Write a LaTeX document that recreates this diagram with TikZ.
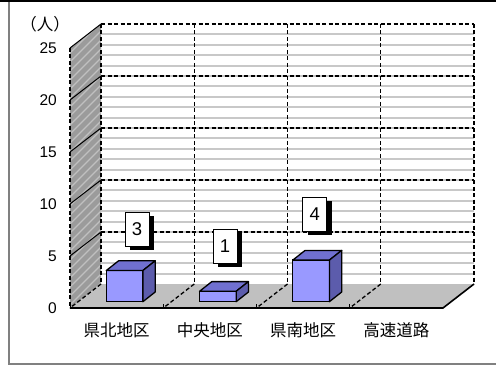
\documentclass[tikz,border=0pt]{standalone}
\usepackage{fontspec}
\setmainfont{Liberation Sans}
\newfontfamily\jpfont{Noto Sans CJK JP}
\usetikzlibrary{positioning,shadows}
\definecolor{barfront}{RGB}{153,153,255}
\definecolor{bartop}{RGB}{112,112,208}
\definecolor{barside}{RGB}{92,92,172}
\definecolor{floorgray}{RGB}{192,192,192}
\definecolor{wallgray}{RGB}{155,155,155}
\definecolor{hatchgray}{RGB}{192,192,192}
\definecolor{minorgray}{RGB}{200,200,200}
\definecolor{framegray}{RGB}{128,128,128}

\begin{document}
\begin{tikzpicture}[x=1pt,y=-1pt,
  major/.style={black,dash pattern=on 4pt off 2.5pt,line width=1.3pt},
  minor/.style={minorgray,line width=2pt},
  ticklabel/.style={anchor=east,inner sep=0pt,font=\fontsize{15.5}{16}\selectfont},
  catlabel/.style={inner sep=0pt,font=\jpfont\fontsize{16.5}{17}\selectfont},
  datalabel/.style={draw=black,fill=white,line width=0.8pt,minimum width=24pt,minimum height=34pt,
    inner sep=0pt,font=\fontsize{18.5}{19}\selectfont,
    drop shadow={shadow xshift=5pt,shadow yshift=-4pt,fill=black,opacity=1}},
  ]
\useasboundingbox (0,0) rectangle (496,369);
\draw[framegray,line width=1.3pt] (9,2) -- (9,364) -- (497,364);
\draw[black,line width=1.8pt] (0,0.9) -- (496,0.9);

% side wall
\begin{scope}
  \clip (70,308) -- (70,48) -- (101,24) -- (101,284) -- cycle;
  \fill[wallgray] (60,0) rectangle (110,320);
  \foreach \s in {0,9,...,360}
    \draw[hatchgray,line width=1.2pt] (60,\s) -- ++(50,-50);
\end{scope}
% floor
\fill[floorgray] (70,308) -- (443,308) -- (474,284) -- (101,284) -- cycle;

% back wall grid
\foreach \v in {1,...,24}
  \draw[minor] (101,284-10.4*\v) -- (474,284-10.4*\v);
\foreach \v in {5,10,...,25}{
  \draw[major] (101,284-10.4*\v) -- (474,284-10.4*\v);
  \draw[black,line width=1pt] (70,308-10.4*\v) -- ++(31,-24);
}
\foreach \i in {0,...,4}
  \draw[major] (101+93.25*\i,24) -- (101+93.25*\i,284);
\foreach \i in {0,...,3}{
  \draw[major] (101+93.25*\i,284) -- (70+93.25*\i,308);
  \draw[black,line width=1pt] (70+93.25*\i,308) -- ++(0,-4);
}
\draw[major] (70,48) -- (70,308);
\draw[black,line width=1.6pt] (70,308) -- (443,308) -- (474,284);

% bars
\foreach \k/\v in {0/3,1/1,2/4}{
  \pgfmathsetmacro{\bl}{106.3+93.25*\k}
  \pgfmathsetmacro{\br}{\bl+36.6}
  \pgfmathsetmacro{\bt}{301.7-10.4*\v}
  \draw[fill=barfront,line width=1.3pt] (\bl,301.7) rectangle (\br,\bt);
  \draw[fill=bartop,line width=1.3pt,line join=round] (\bl,\bt) -- ++(12.3,-9.7) -- ++(36.6,0) -- (\br,\bt) -- cycle;
  \draw[fill=barside,line width=1.3pt,line join=round] (\br,\bt) -- ++(12.3,-9.7) -- ++(0,10.4*\v) -- (\br,301.7) -- cycle;
}

\node[datalabel] (val1) at (137,229) {3};
\node[datalabel] (val2) at (225,246) {1};
\node[datalabel] (val3) at (314.7,214) {4};

\foreach \v in {0,5,...,25}
  \node[ticklabel] (tick\v) at (57,308-10.4*\v) {\v};
\node[catlabel] (unit) at (45,24) {（人）};
\foreach \name [count=\i from 0] in {県北地区,中央地区,県南地区,高速道路}
  \node[catlabel] (cat\i) at (116.6+93.25*\i,330) {\name};
\end{tikzpicture}
\end{document}
